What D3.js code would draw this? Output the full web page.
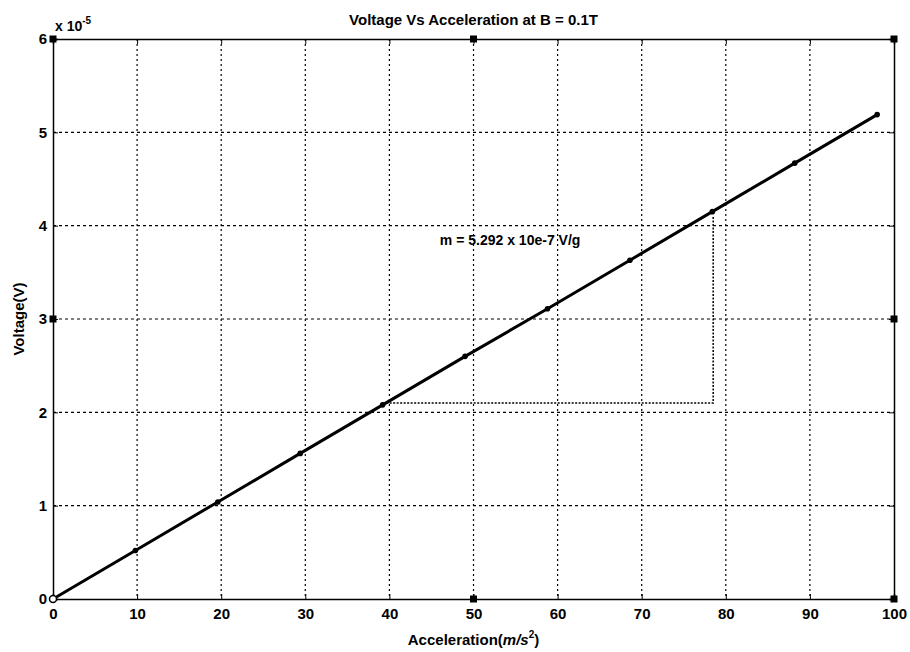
<!DOCTYPE html>
<html>
<head>
<meta charset="utf-8">
<script src="https://d3js.org/d3.v7.min.js"></script>
<style>
  body { margin: 0; background: #fff; }
  text { font-family: "Liberation Sans", Arial, sans-serif; font-weight: bold; fill: #000; }
</style>
</head>
<body>
<div id="graph"></div>
<script>
// valeurs (tension en x10^-5 V)
var acceleration = [0, 9.8, 19.6, 29.4, 39.2, 49, 58.8, 68.6, 78.4, 88.2, 98];
var voltage = [0, 0.52, 1.04, 1.56, 2.08, 2.60, 3.11, 3.63, 4.15, 4.67, 5.19];
var xTicks = [0, 10, 20, 30, 40, 50, 60, 70, 80, 90, 100];
var yTicks = [0, 1, 2, 3, 4, 5, 6];
// triangle de pente : coin bas gauche, coin bas droit, coin haut
var slopeX = [39.2, 78.5, 78.5];
var slopeY = [2.1, 2.1, 4.1];
var titre = "Voltage Vs Acceleration at B = 0.1T";
var annotation = "m = 5.292 x 10e-7 V/g";

var margin = {top: 39, right: 16, bottom: 53, left: 53},
    width = 910 - margin.left - margin.right,
    height = 652 - margin.top - margin.bottom;

var svg = d3.select("#graph")
  .append("svg")
    .attr("width", 910)
    .attr("height", 652)
  .append("g")
    .attr("transform", "translate(" + margin.left + "," + margin.top + ")");

var x = d3.scaleLinear().domain([0, 100]).range([0, width]);
var y = d3.scaleLinear().domain([0, 6]).range([height, 0]);

// grille pointillée
svg.append("g").selectAll("line")
  .data(xTicks.slice(1, -1))
  .enter().append("line")
    .attr("x1", function(d) { return x(d); })
    .attr("x2", function(d) { return x(d); })
    .attr("y1", 0).attr("y2", height)
    .attr("stroke", "#000").attr("stroke-width", 1.2)
    .attr("stroke-dasharray", "2,3");
svg.append("g").selectAll("line")
  .data(yTicks.slice(1, -1))
  .enter().append("line")
    .attr("y1", function(d) { return y(d); })
    .attr("y2", function(d) { return y(d); })
    .attr("x1", 0).attr("x2", width)
    .attr("stroke", "#000").attr("stroke-width", 1.2)
    .attr("stroke-dasharray", "3,3");

// axes
svg.append("g")
  .attr("transform", "translate(0," + height + ")")
  .call(d3.axisBottom(x).tickValues(xTicks).tickSize(-5).tickPadding(9));
svg.append("g")
  .call(d3.axisLeft(y).tickValues(yTicks).tickSize(-5).tickPadding(6).tickFormat(d3.format("d")));
svg.append("g")
  .call(d3.axisTop(x).tickValues(xTicks).tickSize(-5).tickFormat(""));
svg.append("g")
  .attr("transform", "translate(" + width + ",0)")
  .call(d3.axisRight(y).tickValues(yTicks).tickSize(-5).tickFormat(""));
svg.selectAll(".domain").attr("stroke", "#000").attr("stroke-width", 1.5);
svg.selectAll(".tick line").attr("stroke", "#000");
svg.selectAll(".tick text").style("font-size", "15px").style("font-weight", "bold").attr("fill", "#000");

// triangle de pente
var tri = d3.line()
  .x(function(d) { return x(d[0]); })
  .y(function(d) { return y(d[1]); });
svg.append("path")
  .datum(d3.zip(slopeX, slopeY))
  .attr("fill", "none")
  .attr("stroke", "#000")
  .attr("stroke-width", 1.5)
  .attr("stroke-dasharray", "2,1.5")
  .attr("d", tri);

// la ligne
var line = d3.line()
  .x(function(d) { return x(d[0]); })
  .y(function(d) { return y(d[1]); });
var pts = d3.zip(acceleration, voltage);
svg.append("path")
  .datum(pts)
  .attr("fill", "none")
  .attr("stroke", "#000")
  .attr("stroke-width", 3)
  .attr("d", line);
svg.selectAll("circle.pt")
  .data(pts)
  .enter().append("circle")
    .attr("class", "pt")
    .attr("cx", function(d) { return x(d[0]); })
    .attr("cy", function(d) { return y(d[1]); })
    .attr("r", 2.8)
    .attr("fill", "#000");

// poignées de sélection (carrés noirs)
var handles = [[0, 6], [50, 6], [100, 6], [0, 3], [100, 3], [50, 0], [100, 0]];
svg.selectAll("rect.h")
  .data(handles)
  .enter().append("rect")
    .attr("class", "h")
    .attr("x", function(d) { return x(d[0]) - 3.5; })
    .attr("y", function(d) { return y(d[1]) - 3.5; })
    .attr("width", 7).attr("height", 7)
    .attr("fill", "#000");
svg.append("circle")
  .attr("cx", x(0)).attr("cy", y(0)).attr("r", 3.5)
  .attr("fill", "#fff").attr("stroke", "#000").attr("stroke-width", 1.5);

// textes
svg.append("text")
  .attr("x", width / 2).attr("y", -14)
  .attr("text-anchor", "middle")
  .style("font-size", "15px")
  .text(titre);
svg.append("text")
  .attr("x", x(46)).attr("y", y(4) + 19)
  .style("font-size", "14px")
  .text(annotation);
var ex = svg.append("text")
  .attr("x", 2).attr("y", -8)
  .style("font-size", "14px");
ex.append("tspan").text("x 10");
ex.append("tspan").attr("dy", -7).style("font-size", "10px").text("-5");

var xl = svg.append("text")
  .attr("x", width / 2).attr("y", height + 46)
  .attr("text-anchor", "middle")
  .style("font-size", "15px");
xl.append("tspan").text("Acceleration(");
xl.append("tspan").style("font-style", "italic").text("m/s");
xl.append("tspan").attr("dy", -7).style("font-size", "10px").text("2");
xl.append("tspan").attr("dy", 7).text(")");

svg.append("text")
  .attr("transform", "translate(-29," + (height / 2) + ") rotate(-90)")
  .attr("text-anchor", "middle")
  .style("font-size", "15px")
  .text("Voltage(V)");
</script>
</body>
</html>
